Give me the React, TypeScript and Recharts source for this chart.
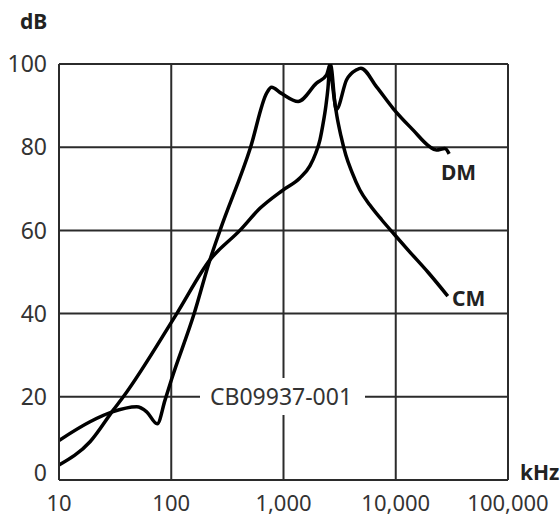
import { LineChart, Line, XAxis, YAxis, CartesianGrid, Customized } from 'recharts';

// DM curve (frequency in kHz, level in dB)
const dmFreq = [10, 18.9, 29.4, 49.2, 60.4, 75, 88, 100, 160, 221, 272, 509, 708, 783, 950, 1350, 1970, 2420, 2620, 2950, 3650, 4480, 4890, 6750, 9490, 14300, 20100, 23000, 27400, 29900];
const dmLevel = [9.5, 14.0, 16.3, 17.6, 16.4, 13.5, 19.2, 24, 40, 52.9, 60, 80, 93, 94.4, 93, 91, 95.4, 97.4, 100, 89, 96.2, 98.6, 99, 94.5, 89.3, 84.1, 80.1, 79.3, 79.7, 78.4];

// CM curve
const cmFreq = [10, 18.9, 30.4, 37.4, 112, 221, 409, 617, 989, 1400, 1720, 1940, 2110, 2240, 2390, 2490, 2590, 2700, 2810, 2990, 3250, 3590, 4070, 4790, 5880, 7520, 9820, 13360, 19300, 29100];
const cmLevel = [3.6, 9.2, 16.8, 20, 40, 52.9, 60, 65.3, 69.7, 72.6, 75.5, 78.6, 81.7, 85.3, 90.1, 94.2, 100, 96.2, 92.3, 87.5, 82.7, 78.1, 74.0, 69.7, 66.1, 62.5, 58.9, 54.8, 50.0, 44.2];

const xTicks = [10, 100, 1000, 10000, 100000];
const yTicks = [0, 20, 40, 60, 80, 100];

const dmData = dmFreq.map((f, i) => ({ f, v: dmLevel[i] }));
const cmData = cmFreq.map((f, i) => ({ f, v: cmLevel[i] }));

const grid = '#2b2b2b';
const font = '"Noto Sans", sans-serif';
const tickStyle = { fill: '#333', fontSize: 22, fontFamily: font };

function YTick(props: any) {
  const { x, y, payload } = props;
  // the 0 label sits a bit above the axis in the original
  const off = payload.value === 0 ? -7 : 0;
  return (
    <text x={x} y={y + off} dy="0.355em" textAnchor="end" style={{ ...tickStyle, fontSize: 23 }}>
      {payload.value}
    </text>
  );
}

function Labels() {
  const bold = { fontFamily: font, fontWeight: 700, fontSize: 21, fill: '#222' };
  return (
    <g>
      <rect x={200} y={378} width={165} height={37} fill="#fff" />
      <text x={281} y={405} textAnchor="middle" style={{ fontFamily: font, fontSize: 23, fill: '#333' }}>
        CB09937-001
      </text>
      <text x={20} y={29} style={bold}>dB</text>
      <text x={520} y={480} style={bold}>kHz</text>
      <text x={441} y={180} style={bold}>DM</text>
      <text x={452} y={306} style={bold}>CM</text>
    </g>
  );
}

export default function App() {
  return (
    <div style={{ position: 'absolute', left: 0, top: 0 }}>
      <LineChart width={560} height={518} margin={{ top: 64, right: 52, bottom: 0, left: 0 }}>
        <CartesianGrid stroke={grid} strokeWidth={2} />
        <XAxis
          dataKey="f"
          type="number"
          scale="log"
          domain={[10, 100000]}
          ticks={xTicks}
          allowDataOverflow
          height={38}
          tickLine={false}
          tickSize={0}
          tickMargin={15}
          axisLine={{ stroke: grid, strokeWidth: 2 }}
          tick={tickStyle}
          tickFormatter={(v: number) => v.toLocaleString('en-US')}
          interval={0}
        />
        <YAxis
          type="number"
          domain={[0, 100]}
          ticks={yTicks}
          allowDataOverflow
          width={59}
          tickLine={false}
          tickSize={0}
          tickMargin={12}
          axisLine={{ stroke: grid, strokeWidth: 2 }}
          tick={<YTick />}
          interval={0}
        />
        <Customized component={<Labels />} />
        <Line data={dmData} dataKey="v" type="monotone" stroke="#000" strokeWidth={3.5} dot={false} isAnimationActive={false} />
        <Line data={cmData} dataKey="v" type="monotone" stroke="#000" strokeWidth={3.5} dot={false} isAnimationActive={false} />
      </LineChart>
    </div>
  );
}
